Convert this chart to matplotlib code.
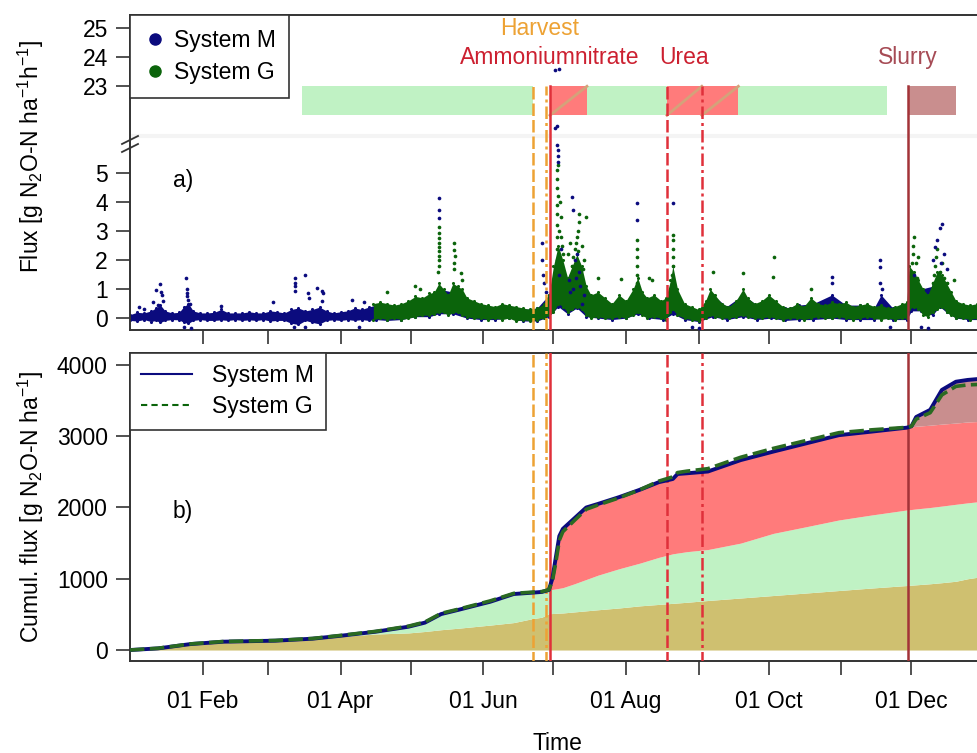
import numpy as np
import matplotlib
matplotlib.use("Agg")
import matplotlib.pyplot as plt
import matplotlib.dates as mdates
from matplotlib.lines import Line2D
from matplotlib.ticker import FuncFormatter

plt.rcParams['font.family'] = ['Liberation Sans', 'DejaVu Sans']
plt.rcParams['font.size'] = 16.5
plt.rcParams['mathtext.fontset'] = 'custom'
plt.rcParams['mathtext.rm'] = 'Liberation Sans'
plt.rcParams['mathtext.it'] = 'Liberation Sans:italic'
plt.rcParams['mathtext.bf'] = 'Liberation Sans:bold'

# ---- flux, panel a) : day of year (0 = 1 Jan) and flux in g N2O-N / ha / h ----
band_days_M = [0, 3, 6, 9, 11, 13, 15, 18, 21, 23, 25, 27, 30, 33, 36, 39, 42, 45, 48, 51,
               54, 57, 60, 63, 66, 69, 72, 75, 78, 81, 84, 87, 90, 93, 96, 99, 102, 105, 110, 116,
               122, 128, 132, 138, 144, 150, 156, 162, 168, 174, 179, 183, 187, 191, 195, 200, 206, 212, 217, 222,
               228, 232, 237, 243, 249, 255, 262, 268, 274, 280, 286, 292, 300, 306, 312, 318, 321, 326, 332, 334,
               338, 343, 346, 349, 353, 358, 365]
band_low_M = [-0.08, -0.1, -0.05, -0.12, -0.08, -0.15, -0.08, -0.05, -0.06, -0.15,
              -0.18, -0.08, -0.05, -0.08, -0.08, -0.06, -0.08, -0.05, -0.08, -0.06,
              -0.08, -0.05, -0.1, -0.08, -0.08, -0.18, -0.22, -0.08, -0.15, -0.2,
              -0.08, -0.06, -0.08, -0.05, -0.08, -0.05, -0.08, -0.05, -0.08, -0.05,
              0.05, 0.05, 0.15, 0.15, 0.0, -0.05, -0.05, 0.0, -0.1, -0.1,
              0.05, 0.4, 0.15, 0.35, 0.05, 0.0, -0.05, 0.0, 0.15, 0.0,
              -0.05, 0.15, -0.05, -0.12, 0.05, -0.05, 0.05, -0.05, 0.0, -0.08,
              -0.05, -0.05, 0.0, -0.05, -0.05, -0.05, 0.0, -0.05, -0.05, 0.25,
              0.25, 0.1, 0.4, 0.2, 0.0, -0.05, -0.05]
band_high_M = [0.12, 0.2, 0.18, 0.25, 0.35, 0.45, 0.25, 0.18, 0.2, 0.4,
               0.5, 0.25, 0.18, 0.18, 0.2, 0.3, 0.18, 0.18, 0.18, 0.22,
               0.18, 0.18, 0.25, 0.22, 0.18, 0.3, 0.35, 0.25, 0.3, 0.38,
               0.25, 0.18, 0.22, 0.25, 0.35, 0.3, 0.38, 0.45, 0.45, 0.4,
               0.6, 0.7, 1.0, 0.9, 0.6, 0.4, 0.35, 0.4, 0.3, 0.35,
               0.8, 2.0, 1.2, 1.6, 0.9, 0.7, 0.45, 0.5, 1.0, 0.6,
               0.5, 1.2, 0.45, 0.25, 0.8, 0.4, 0.8, 0.45, 0.6, 0.35,
               0.45, 0.5, 0.8, 0.45, 0.45, 0.35, 0.8, 0.35, 0.45, 1.2,
               1.0, 1.1, 1.6, 1.0, 0.5, 0.4, 0.35]

band_days_G = [104, 107, 110, 113, 116, 119, 122, 125, 128, 130, 132, 134, 136, 138, 140, 142, 144, 147, 150, 153,
               156, 159, 162, 165, 168, 171, 174, 177, 179, 181, 183, 185, 187, 189, 191, 193, 195, 197, 200, 203,
               206, 209, 212, 215, 217, 219, 221, 224, 227, 229, 231, 232, 234, 237, 240, 243, 246, 248, 250, 253,
               256, 259, 262, 264, 267, 270, 273, 276, 279, 282, 285, 288, 291, 294, 297, 300, 303, 306, 309, 312,
               315, 318, 321, 324, 327, 330, 332, 333, 335, 337, 339, 341, 343, 345, 347, 349, 351, 353, 356, 359,
               362, 365]
band_low_G = [-0.05, 0.0, -0.05, 0.0, -0.05, 0.0, 0.05, 0.1, 0.1, 0.15,
              0.2, 0.2, 0.1, 0.2, 0.2, 0.1, 0.05, 0.0, 0.0, -0.05,
              0.0, -0.05, 0.0, -0.1, -0.05, -0.1, -0.05, 0.0, 0.1, 0.2,
              0.5, 0.4, 0.2, 0.3, 0.4, 0.3, 0.1, 0.0, 0.05, 0.0,
              0.0, 0.05, 0.0, 0.1, 0.2, 0.1, 0.0, 0.05, 0.0, -0.05,
              0.2, 0.3, 0.1, 0.0, -0.05, -0.1, 0.0, 0.1, 0.05, 0.0,
              0.0, 0.05, 0.1, 0.05, 0.0, 0.0, 0.05, 0.0, -0.05, 0.0,
              0.0, -0.05, 0.0, 0.05, 0.0, 0.0, 0.05, 0.0, -0.05, 0.0,
              0.05, 0.0, -0.05, 0.0, -0.05, 0.0, 0.0, 0.3, 0.4, 0.3,
              0.1, 0.05, 0.2, 0.3, 0.4, 0.2, 0.1, 0.0, 0.0, -0.05,
              0.0, 0.0]
band_high_G = [0.5, 0.55, 0.5, 0.45, 0.5, 0.6, 0.75, 0.7, 0.85, 0.9,
               1.2, 1.0, 0.8, 1.2, 1.1, 1.0, 0.7, 0.6, 0.5, 0.45,
               0.4, 0.5, 0.45, 0.4, 0.35, 0.3, 0.35, 0.5, 0.8, 1.8,
               2.5, 2.0, 1.4, 1.8, 2.2, 1.8, 1.1, 0.8, 0.9, 0.7,
               0.5, 0.8, 0.6, 1.0, 1.4, 0.9, 0.7, 0.8, 0.6, 0.7,
               1.3, 1.8, 1.0, 0.5, 0.4, 0.3, 0.6, 1.0, 0.8, 0.5,
               0.4, 0.6, 1.0, 0.7, 0.5, 0.6, 0.8, 0.6, 0.4, 0.35,
               0.5, 0.4, 0.7, 0.5, 0.45, 0.55, 0.5, 0.55, 0.4, 0.45,
               0.5, 0.4, 0.45, 0.35, 0.4, 0.5, 0.55, 1.8, 1.6, 1.3,
               1.0, 0.8, 1.2, 1.6, 1.5, 1.2, 0.9, 0.6, 0.5, 0.45,
               0.5, 0.4]

# single measurements outside the dense band
spike_days_M = [4, 6, 10, 11, 12, 13, 13.3, 13.6, 14, 23, 24, 24.2, 24.5, 24.3, 25, 25.5, 26, 39, 61,
                70.5, 70.5, 70.6, 70.4, 70, 75, 75, 76, 76.3, 80, 82, 82.3, 82, 95, 98, 100,
                132, 132, 132.1, 176, 176.1, 176.5, 177, 178, 181.5, 182.5, 181.8, 183.2,
                182.6, 182.8, 183, 183.1, 189, 189.2, 190, 191, 192, 188, 193, 216.7, 216.7, 232,
                300, 300.2, 320.5, 320.6, 320.5, 321.5, 343, 344, 345, 346, 347, 348, 349,
                240, 243, 325, 338, 341,
                187.5, 189.5, 190.5, 192.5, 194, 183.5, 184, 335, 346.5]
spike_vals_M = [0.38, 0.33, 0.55, 0.97, 0.45, 1.17, 0.9, 0.8, 0.6, -0.3, 1.38, 1.0, 0.87, 0.75, 0.63, 0.5, -0.35, 0.42, 0.56,
                1.38, 1.2, 1.1, 0.95, -0.3, 1.48, -0.3, 0.86, 0.7, 1.05, 0.95, 0.85, 0.6, 0.64, -0.3, 0.55,
                4.13, 3.73, 3.45, 2.6, 2.0, 1.5, 1.2, 0.9, 6.55, 6.62, 23.55, 23.6,
                5.97, 5.8, 5.6, 5.4, 4.18, 3.72, 2.0, 2.2, 1.6, 0.9, 0.5, 3.96, 3.39, 3.96,
                1.43, 1.2, 2.0, 1.75, 1.2, 1.0, 2.0, 2.45, 2.69, 3.1, 3.26, 2.2, 1.7,
                -0.3, -0.35, -0.3, -0.3, -0.35,
                1.3, 1.0, 1.4, 1.1, 0.8, 1.5, 2.4, 1.5, 1.9]

spike_days_G = [110, 122, 124, 131.5, 132, 132, 132.2, 132, 132.1, 132, 132.2, 132.1, 132,
                138.5, 138.5, 138.7, 138.5, 138.6, 141.5, 141.7,
                182.2, 182.4, 182.6, 182.3, 182.5, 182.7, 182.4, 182.6, 182.8, 182.5, 182.7, 182.6, 182.9,
                184, 184.5, 188.5, 189, 189.5, 190, 190.5, 191, 191.5, 192, 192, 195, 200, 210,
                216.5, 216.8, 216.6, 216.7, 216.9, 216.7, 222, 223,
                231.5, 231.8, 232, 232.2, 231.9, 232.1, 232, 249, 262, 275, 275.3, 291,
                333.5, 333.8, 334, 334.2, 334.5, 334.7, 335, 343, 343.5, 344, 344.5, 345, 352, 363,
                186, 187, 188, 189.5, 190.5, 191.5, 193, 194, 193.5,
                183.5, 184, 184.5, 185, 183.8, 183.4,
                336, 336.5, 337, 346, 347, 348, 349]
spike_vals_G = [0.9, 1.1, 1.0, 1.6, 1.8, 2.0, 2.15, 2.3, 2.47, 2.6, 2.76, 2.94, 3.16,
                1.7, 1.9, 2.13, 2.36, 2.58, 1.55, 1.3,
                1.2, 1.6, 2.0, 2.4, 2.8, 3.2, 3.6, 3.9, 4.2, 4.5, 4.8, 5.1, 5.3,
                3.5, 2.5, 1.5, 1.8, 2.1, 2.4, 2.6, 2.8, 3.0, 3.3, 3.6, 3.5, 1.4, 1.35,
                1.2, 1.5, 1.8, 2.1, 2.4, 2.7, 1.4, 1.3,
                1.2, 1.5, 1.8, 2.1, 2.4, 2.7, 2.86, 1.6, 1.55, 1.43, 2.1, 1.02,
                1.0, 1.3, 1.6, 1.9, 2.2, 2.5, 2.8, 1.2, 1.5, 1.8, 2.1, 2.4, 1.3, 1.3,
                1.2, 2.2, 2.6, 1.2, 1.9, 2.3, 2.5, 2.0, 1.7,
                2.0, 2.8, 1.5, 2.2, 4.0, 3.0,
                1.9, 1.4, 2.1, 1.6, 1.9, 1.4, 1.2]

# management periods (start, end day) and events
crop_periods = [(73.5, 172.2), (195.3, 229.5), (260.0, 323.5)]
mineral_periods = [(179.5, 195.3), (229.5, 244.4), (244.4, 260.0)]
slurry_periods = [(332.5, 353.0)]
harvest_days = [172.2, 177.8]
ammonium_days = [179.5]
urea_days = [229.5, 244.4]
slurry_days = [332.5]

# ---- cumulative flux, panel b) ----
cum_days = [0, 12, 26, 40, 62, 78, 90, 105, 119, 126, 133, 140, 154, 164, 172, 176, 179, 180.5, 182, 183.5,
            185, 190, 195, 200, 209, 218, 226, 232, 234, 238, 247, 261, 275, 289, 303, 317, 332, 334, 336, 342,
            347, 353, 358, 365]
cum_M = [0, 23, 84, 117, 131, 159, 200, 257, 327, 384, 505, 561, 678, 786, 805, 815, 842, 1000, 1300, 1600,
         1700, 1850, 2000, 2050, 2145, 2250, 2355, 2400, 2470, 2480, 2505, 2665, 2785, 2900, 3015, 3065, 3120, 3140, 3270, 3370,
         3650, 3765, 3790, 3810]
cum_G = [0, 25, 86, 120, 134, 162, 205, 262, 335, 392, 515, 570, 690, 795, 812, 820, 845, 960, 1230, 1540,
         1660, 1820, 1975, 2035, 2135, 2250, 2370, 2430, 2490, 2510, 2545, 2705, 2830, 2940, 3050, 3090, 3125, 3140, 3240, 3330,
         3580, 3700, 3720, 3730]
cum_background = [0, 23, 84, 117, 131, 159, 190, 225, 240, 260, 285, 305, 350, 385, 440, 460, 510, 512, 515, 518,
                  520, 535, 550, 565, 590, 620, 640, 655, 660, 670, 695, 730, 765, 800, 835, 870, 905, 910, 915, 930,
                  945, 965, 1000, 1035]
cum_crop = [0, 23, 84, 117, 131, 159, 200, 257, 327, 384, 505, 561, 678, 786, 805, 815, 842, 850, 858, 866,
            875, 930, 990, 1050, 1140, 1220, 1300, 1350, 1360, 1380, 1410, 1500, 1637, 1730, 1825, 1895, 1965, 1972, 1980, 2000,
            2020, 2045, 2065, 2090]
cum_mineral = [0, 23, 84, 117, 131, 159, 200, 257, 327, 384, 505, 561, 678, 786, 805, 815, 842, 1000, 1300, 1600,
               1700, 1850, 2000, 2050, 2145, 2250, 2355, 2400, 2470, 2480, 2505, 2665, 2785, 2900, 3015, 3065, 3120, 3130, 3140, 3155,
               3170, 3185, 3200, 3210]

col_M = '#0b0b7e'
col_G = '#0b640b'
col_crop = '#c0f2c4'
col_min = '#ff7b7b'
col_slurry = '#c98e8e'
col_bg = '#cfc070'
col_harvest = '#eda234'
col_red = '#e0303a'
col_slurry_line = '#a33338'
col_axis = '#333333'

GAP_SHIFT = 15.0   # values above the axis break are drawn 15 units lower
T0 = np.datetime64('2013-01-01T00:00')


def to_time(days):
    return T0 + np.round(np.asarray(days, dtype=float) * 1440).astype('timedelta64[m]')


def gapped(v):
    v = np.asarray(v, dtype=float)
    return np.where(v > 20, v - GAP_SHIFT, v)


W, H = 978, 753
fig = plt.figure(figsize=(W / 100, H / 100), dpi=100)
ax1 = fig.add_axes([130 / W, 1 - 330 / H, 854 / W, 315 / H])
ax2 = fig.add_axes([130 / W, 1 - 661 / H, 854 / W, 308 / H])

xlim = to_time([0, 365])
month_fmt = FuncFormatter(
    lambda x, pos: mdates.num2date(x).strftime('%d %b') if mdates.num2date(x).month % 2 == 0 else '')

for ax in (ax1, ax2):
    ax.set_xlim(xlim)
    ax.xaxis.set_major_locator(mdates.MonthLocator(bymonth=range(2, 13)))
    ax.xaxis.set_major_formatter(month_fmt)
    ax.tick_params(direction='out', length=10, width=1.2, color=col_axis, pad=11)
    ax.tick_params(axis='y', pad=6)
    for s in ax.spines.values():
        s.set_color(col_axis)
        s.set_linewidth(1.4)
ax1.tick_params(axis='x', labelbottom=False)

# ---- panel a) ----
ylo1, yhi1 = -0.41, 10.46
ax1.set_ylim(ylo1, yhi1)
ax1.set_yticks([0, 1, 2, 3, 4, 5, 23 - GAP_SHIFT, 24 - GAP_SHIFT, 25 - GAP_SHIFT])
ax1.set_yticklabels(['0', '1', '2', '3', '4', '5', '23', '24', '25'])

ax1.axhline(6.28, color='#f4f4f4', lw=3, zorder=0)

tM, tG = to_time(band_days_M), to_time(band_days_G)
ax1.fill_between(tM, band_low_M, band_high_M, color=col_M, lw=0, zorder=2)
ax1.scatter(np.concatenate([tM, tM]), band_low_M + band_high_M, s=5, color=col_M, lw=0, zorder=2)
ax1.fill_between(tG, band_low_G, band_high_G, color=col_G, lw=0, zorder=3)
ax1.scatter(np.concatenate([tG, tG]), band_low_G + band_high_G, s=5, color=col_G, lw=0, zorder=3)
ax1.scatter(to_time(spike_days_G), gapped(spike_vals_G), s=7, color=col_G, lw=0, zorder=4)
ax1.scatter(to_time(spike_days_M), gapped(spike_vals_M), s=7, color=col_M, lw=0, zorder=5)

bar_lo, bar_hi = 22.0 - GAP_SHIFT, 23.0 - GAP_SHIFT
for a, b in crop_periods:
    ax1.fill_between(to_time([a, b]), bar_lo, bar_hi, color=col_crop, lw=0, zorder=1)
for a, b in mineral_periods:
    ax1.fill_between(to_time([a, b]), bar_lo, bar_hi, color=col_min, lw=0, zorder=1)
    ax1.plot(to_time([a, b]), [bar_lo, bar_hi], color='#d4a27a', lw=2, zorder=1.5)
for a, b in slurry_periods:
    ax1.fill_between(to_time([a, b]), bar_lo, bar_hi, color=col_slurry, lw=0, zorder=1)

dash = (5, 1.6)
dashdot = (5, 1.6, 1.2, 1.6)
events = [(harvest_days[0], col_harvest, dash), (harvest_days[1], col_harvest, dashdot),
          (ammonium_days[0], col_red, None), (urea_days[0], col_red, dash), (urea_days[1], col_red, dashdot),
          (slurry_days[0], col_slurry_line, None)]
for d, c, ls in events:
    for ax, lo, top in ((ax1, ylo1, bar_hi), (ax2, -200, 4168)):
        ln, = ax.plot(to_time([d, d]), [lo, top], color=c, lw=1.8, zorder=6)
        if ls is not None:
            ln.set_dashes(ls)

ax1.text(to_time(np.mean(harvest_days)), 25 - GAP_SHIFT, 'Harvest', color=col_harvest,
         ha='center', va='center')
ax1.text(to_time(ammonium_days[0]), 24 - GAP_SHIFT, 'Ammoniumnitrate', color='#cc2030',
         ha='center', va='center')
ax1.text(to_time(np.mean(urea_days)), 24 - GAP_SHIFT, 'Urea', color='#cc2030', ha='center', va='center')
ax1.text(to_time(slurry_days[0]), 24 - GAP_SHIFT, 'Slurry', color='#a64b55', ha='center', va='center')
ax1.text(to_time(22.6), 4.76, 'a)', ha='center', va='center')

leg1 = ax1.legend(handles=[Line2D([], [], ls='none', marker='o', ms=8, color=col_M, label='System M'),
                           Line2D([], [], ls='none', marker='o', ms=8, color=col_G, label='System G')],
                  loc='upper left', borderaxespad=0, fancybox=False, framealpha=1, edgecolor=col_axis,
                  handletextpad=0.3, borderpad=0.6, labelspacing=0.4, handlelength=1.0)
leg1.get_frame().set_linewidth(1.2)
leg1.set_zorder(10)

# axis break marks on the left spine
for dy in (0, 8):
    fig.add_artist(Line2D([122 / W, 138 / W], [1 - (144 + dy) / H, 1 - (136 + dy) / H],
                          color=col_axis, lw=1.3))

# ---- panel b) ----
ax2.set_ylim(-154, 4168)
ax2.set_yticks([0, 1000, 2000, 3000, 4000])
t = to_time(cum_days)
ax2.fill_between(t, 0, cum_background, color=col_bg, lw=0, zorder=1)
ax2.fill_between(t, cum_background, cum_crop, color=col_crop, lw=0, zorder=1)
ax2.fill_between(t, cum_crop, cum_mineral, color=col_min, lw=0, zorder=1)
ax2.fill_between(t, cum_mineral, cum_M, color=col_slurry, lw=0, zorder=1)
ax2.plot(t, cum_M, color=col_M, lw=2.8, zorder=7, label='System M')
lg, = ax2.plot(t, cum_G, color='#2a6a22', lw=2.6, zorder=8, label='System G')
lg.set_dashes((4, 1.5))
ax2.text(to_time(22.6), 1950, 'b)', ha='center', va='center')

leg2 = ax2.legend(handles=[Line2D([], [], color=col_M, lw=1.5, label='System M'),
                           Line2D([], [], color=col_G, lw=1.5, ls=(0, (3, 2)), label='System G')],
                  loc='upper left', borderaxespad=0, fancybox=False, framealpha=1, edgecolor=col_axis,
                  handletextpad=0.9, borderpad=0.5, labelspacing=0.35, handlelength=2.2)
leg2.get_frame().set_linewidth(1.2)
leg2.set_zorder(10)

fig.text(31 / W, 1 - 157 / H, 'Flux [g N$_2$O-N ha$^{-1}$h$^{-1}$]', rotation=90, ha='center', va='center')
fig.text(31 / W, 1 - 507 / H, 'Cumul. flux [g N$_2$O-N ha$^{-1}$]', rotation=90, ha='center', va='center')
fig.text(557 / W, 1 - 743 / H, 'Time', ha='center', va='center')

fig.savefig('out.png', dpi=100)
